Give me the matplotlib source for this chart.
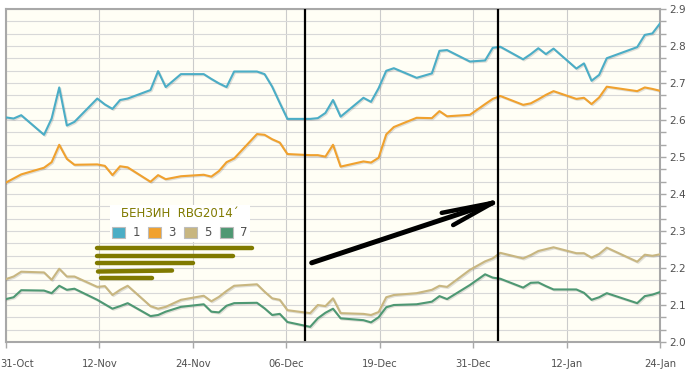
"""
Gasoline (RBOB) futures strip chart, contracts 1/3/5/7, Oct 2012 - Jan 2013.
"""

import numpy as np
import pandas as pd
import matplotlib
matplotlib.use('Agg')
import matplotlib.pyplot as plt
import matplotlib.patheffects as pe
import matplotlib.transforms as mtransforms
from matplotlib.patches import Patch


# Colors
BLUE = '#4badc6'
ORANGE = '#f0a12e'
TAN = '#c8b680'
GREEN = '#4e9873'
OLIVE = '#807a00'
GRID = '#d8d8d8'
SPINE = '#a8a8a8'
TEXT = '#505050'

# Trading days (holidays dropped)
holidays = ['2012-11-22', '2012-12-25', '2013-01-01', '2013-01-21']
dates = pd.bdate_range('2012-10-31', '2013-01-25').drop(pd.to_datetime(holidays))

series_labels = ['1', '3', '5', '7']

rb1 = [2.607, 2.604, 2.613,
       2.560, 2.604, 2.688, 2.585, 2.595,
       2.658, 2.642, 2.630, 2.654, 2.658,
       2.681, 2.732, 2.689, 2.724,
       2.724, 2.711, 2.699, 2.689, 2.731,
       2.731, 2.724, 2.690, 2.646, 2.603,
       2.603, 2.605, 2.619, 2.654, 2.609,
       2.660, 2.649, 2.686, 2.733, 2.740,
       2.714, 2.726, 2.787, 2.789,
       2.758, 2.761, 2.795, 2.798,
       2.764, 2.778, 2.794, 2.778, 2.793,
       2.739, 2.753, 2.706, 2.722, 2.767,
       2.797, 2.830, 2.834, 2.861]

rb3 = [2.431, 2.442, 2.453,
       2.471, 2.486, 2.533, 2.495, 2.479,
       2.480, 2.476, 2.451, 2.475, 2.472,
       2.433, 2.451, 2.440, 2.448,
       2.452, 2.447, 2.462, 2.486, 2.496,
       2.562, 2.560, 2.548, 2.539, 2.508,
       2.505, 2.505, 2.501, 2.533, 2.474,
       2.488, 2.485, 2.498, 2.561, 2.581,
       2.606, 2.605, 2.624, 2.610,
       2.614, 2.643, 2.657, 2.665,
       2.641, 2.645, 2.656, 2.668, 2.678,
       2.657, 2.660, 2.643, 2.661, 2.690,
       2.678, 2.688, 2.684, 2.679]

rb5 = [2.170, 2.177, 2.190,
       2.188, 2.168, 2.198, 2.177, 2.177,
       2.149, 2.151, 2.127, 2.141, 2.152,
       2.097, 2.090, 2.095, 2.114,
       2.125, 2.110, 2.122, 2.138, 2.152,
       2.156, 2.136, 2.118, 2.114, 2.086,
       2.078, 2.100, 2.097, 2.118, 2.078,
       2.076, 2.073, 2.081, 2.121, 2.127,
       2.132, 2.141, 2.152, 2.149,
       2.195, 2.218, 2.226, 2.241,
       2.226, 2.235, 2.246, 2.251, 2.256,
       2.240, 2.240, 2.228, 2.238, 2.255,
       2.217, 2.236, 2.233, 2.237]

rb7 = [2.116, 2.121, 2.140,
       2.139, 2.132, 2.152, 2.141, 2.144,
       2.114, 2.102, 2.090, 2.097, 2.105,
       2.070, 2.073, 2.082, 2.095,
       2.102, 2.082, 2.080, 2.098, 2.105,
       2.106, 2.091, 2.073, 2.076, 2.054,
       2.041, 2.064, 2.079, 2.090, 2.064,
       2.059, 2.053, 2.067, 2.094, 2.100,
       2.102, 2.109, 2.124, 2.116,
       2.154, 2.183, 2.174, 2.171,
       2.147, 2.160, 2.161, 2.151, 2.142,
       2.142, 2.133, 2.114, 2.121, 2.132,
       2.105, 2.124, 2.128, 2.135]

xtick_labels = ['31-Oct', '12-Nov', '24-Nov', '06-Dec', '19-Dec', '31-Dec', '12-Jan', '24-Jan']

# Hand drawn markup (days since first date / price)
mark_days = [39.3, 64.65]
arrow_shaft = ([40.2, 64.0], [2.214, 2.376])
arrow_head = [([57.3, 64.0], [2.349, 2.376]), ([58.8, 64.0], [2.316, 2.376])]
# redaction strokes, in image pixels
scribbles = [((97, 252), (248, 248)), ((97, 233), (256, 256)), ((97, 193), (263, 263)),
             ((98, 172), (271.5, 270.5)), ((101, 152), (278, 278))]

W, H = 691, 374
AX_L, AX_R, AX_T, AX_B = 6, 660, 9, 342


def px_to_axes(px, py):
    return (np.asarray(px) - AX_L) / (AX_R - AX_L), (AX_B - np.asarray(py)) / (AX_B - AX_T)


def main():
    fig = plt.figure(figsize=(W / 100, H / 100), dpi=100)
    ax = fig.add_axes([AX_L / W, (H - AX_B) / H, (AX_R - AX_L) / W, (AX_B - AX_T) / H])
    ax.set_facecolor('#fffef5')

    x = (dates - dates[0]).days.values
    shadow = [pe.SimpleLineShadow(offset=(0.8, -0.8), shadow_color='black', alpha=0.12), pe.Normal()]
    for vals, col in zip([rb1, rb3, rb5, rb7], [BLUE, ORANGE, TAN, GREEN]):
        ax.plot(x, vals, color=col, lw=1.5, path_effects=shadow, zorder=3)

    ax.set_xlim(0, x[-1])
    ax.set_ylim(2.0, 2.9)

    ax.set_xticks(np.linspace(0, x[-1], len(xtick_labels)))
    ax.set_xticklabels(xtick_labels)
    ax.yaxis.tick_right()
    ax.set_yticks(np.arange(2.0, 2.95, 0.1))
    ax.set_yticks(np.arange(2.0, 2.9, 0.1 / 3), minor=True)
    ax.set_yticklabels([f'{v:.1f}' for v in np.arange(2.0, 2.95, 0.1)])

    ax.tick_params(axis='x', length=4, width=1, color=SPINE, labelcolor=TEXT, labelsize=7.2, pad=8.5)
    ax.tick_params(axis='y', which='both', length=4, width=1, color=SPINE, labelcolor=TEXT,
                   labelsize=7.6, pad=3)

    ax.grid(which='both', axis='y', color=GRID, lw=0.8)
    ax.grid(which='major', axis='x', color='#cbcbcb', lw=0.8)
    ax.set_axisbelow(True)
    for s in ax.spines.values():
        s.set_color(SPINE)
        s.set_linewidth(1.5)

    # first label hangs off the left edge otherwise
    first = ax.get_xticklabels()[0]
    first.set_ha('left')
    first.set_transform(first.get_transform() + mtransforms.ScaledTranslation(-6 / 100, 0, fig.dpi_scale_trans))

    # markup
    for d in mark_days:
        ax.axvline(d, ymin=0.006, ymax=1, color='black', lw=1.6, zorder=5)
    ax.plot(*arrow_shaft, color='black', lw=3.6, solid_capstyle='round', zorder=5)
    for hx, hy in arrow_head:
        ax.plot(hx, hy, color='black', lw=3.2, solid_capstyle='round', zorder=5)
    for sx, sy in scribbles:
        axx, axy = px_to_axes(sx, sy)
        ax.plot(axx, axy, color=OLIVE, lw=3.2, solid_capstyle='round', transform=ax.transAxes, zorder=6)

    handles = [Patch(facecolor=c, edgecolor='#bcbcbc', lw=0.8) for c in [BLUE, ORANGE, TAN, GREEN]]
    lx, ly = px_to_axes(110, 205)
    leg = ax.legend(handles, series_labels, ncol=4, title='БЕНЗИН  RBG2014\u00b4',
                    loc='upper left', bbox_to_anchor=(lx, ly), frameon=True, facecolor='white',
                    edgecolor='none', framealpha=1, fancybox=False, borderpad=0.2,
                    fontsize=8.5, title_fontsize=8.5, handlelength=1.1, handleheight=1.1,
                    handletextpad=0.6, columnspacing=0.7, labelcolor=TEXT, borderaxespad=0)
    leg.get_title().set_color(OLIVE)
    leg.set_zorder(6)

    fig.savefig('out.png', dpi=100)


if __name__ == '__main__':
    main()
